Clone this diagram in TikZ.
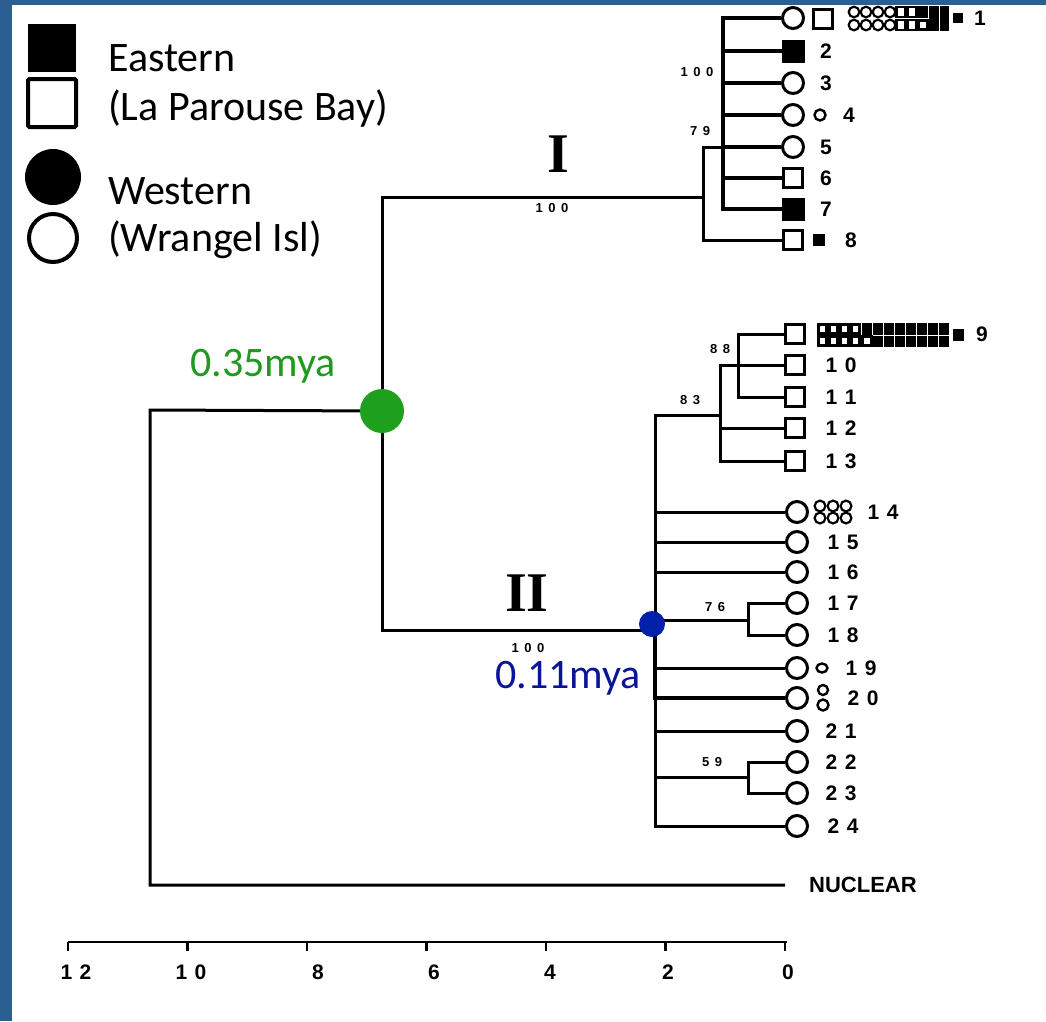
\documentclass[tikz,border=0pt]{standalone}
\usepackage{fontspec}
\setmainfont{Carlito}
\newfontfamily\numf{Liberation Sans}
\newfontfamily\romf{Liberation Serif}
\newcommand\leafnumfont{\numf\bfseries\fontsize{21}{21}\selectfont\spaceskip=7.5pt plus 0pt minus 0pt\relax}
\newcommand\bootnumfont{\numf\bfseries\fontsize{13}{13}\selectfont\spaceskip=5.5pt plus 0pt minus 0pt\relax}
\definecolor{bord}{RGB}{43,95,146}
\definecolor{dotgreen}{RGB}{30,160,30}
\definecolor{txtgreen}{RGB}{30,155,30}
\definecolor{dotblue}{RGB}{0,32,170}
\definecolor{txtblue}{RGB}{10,20,150}
\tikzset{
  tree/.style={line width=3pt},
  treethick/.style={line width=4.5pt},
  leafc/.style={circle, draw, line width=3pt, fill=white, minimum size=21pt, inner sep=0pt},
  leafsq/.style={rectangle, draw, line width=3pt, fill=white, minimum size=19pt, inner sep=0pt},
  leafsf/.style={rectangle, draw, fill=black, line width=1pt, minimum size=22pt, inner sep=0pt},
  num/.style={font=\leafnumfont, inner sep=0pt},
  boot/.style={font=\bootnumfont, inner sep=0pt},
  roman/.style={font=\romf\bfseries\fontsize{56}{56}\selectfont, inner sep=0pt},
  legtxt/.style={font=\fontsize{42}{42}\selectfont, inner sep=0pt, anchor=base west},
  mini/.style={line width=2.2pt},
}
\begin{document}
\begin{tikzpicture}[x=1pt,y=-1pt]
\useasboundingbox (0,0) rectangle (1046,1021);
\fill[white] (0,0) rectangle (1046,1021);
\fill[bord] (0,0) rectangle (12,1021);
\fill[bord] (0,0) rectangle (1046,5);

% ---------- legend
\node[fill=black, minimum size=48pt, inner sep=0pt] (keyEf) at (52,48) {};
\node[draw, line width=4pt, minimum size=48pt, inner sep=0pt, rounded corners=1.5pt] (keyEo) at (52,103) {};
\node[circle, fill=black, minimum size=56pt, inner sep=0pt] (keyWf) at (53,177) {};
\node[circle, draw, line width=4pt, minimum size=48pt, inner sep=0pt] (keyWo) at (53,238) {};
\node[legtxt] (tE) at (108,71) {Eastern};
\node[legtxt] (tEb) at (108,120) {(La Parouse Bay)};
\node[legtxt] (tW) at (108,204) {Western};
\node[legtxt] (tWb) at (108,251) {(Wrangel Isl)};

% ---------- junction coordinates
\coordinate (root) at (150,410);
\coordinate (nuc) at (785,885);
\coordinate (nI) at (382,411);
\coordinate (cI) at (703,197);
\coordinate (aIn) at (723,147);
\coordinate (cII) at (655,630);
\coordinate (bs) at (720,415);
\coordinate (bss) at (738,365);
\coordinate (b78) at (748,620);
\coordinate (b23) at (748,777);

% ---------- leaves clade I
\node[leafc] (l1) at (793,18) {};
\node[leafsq] (l1b) at (823,19) {};
\node[leafsf] (l2) at (793,51) {};
\node[leafc] (l3) at (793,83) {};
\node[leafc] (l4) at (793,115) {};
\node[leafc] (l5) at (793,147) {};
\node[leafsq] (l6) at (793,178) {};
\node[leafsf] (l7) at (793,209) {};
\node[leafsq] (l8) at (793,240) {};
% ---------- leaves clade II
\node[leafsq] (l9) at (795,334) {};
\node[leafsq] (l10) at (795,365) {};
\node[leafsq] (l11) at (795,397) {};
\node[leafsq] (l12) at (795,428) {};
\node[leafsq] (l13) at (795,461) {};
\node[leafc] (l14) at (797,512) {};
\node[leafc] (l15) at (797,542) {};
\node[leafc] (l16) at (797,572) {};
\node[leafc] (l17) at (797,603) {};
\node[leafc] (l18) at (797,635) {};
\node[leafc] (l19) at (797,668) {};
\node[leafc] (l20) at (797,698) {};
\node[leafc] (l21) at (797,731) {};
\node[leafc] (l22) at (797,762) {};
\node[leafc] (l23) at (797,793) {};
\node[leafc] (l24) at (797,826) {};

% ---------- tree connectors
\draw[tree] (nI) -- (root) |- (nuc);
\draw[tree] (cI) -| (nI) |- (cII);
\draw[tree] (cI) |- (aIn) (cI) |- (l8.west);
\draw[treethick] (aIn) |- (l1.west) (aIn) |- (l2.west) (aIn) |- (l3.west)
  (aIn) |- (l4.west) (aIn) |- (l5.west) (aIn) |- (l6.west) (aIn) |- (l7.west);
\draw[tree] (cII) |- (bs) (cII) |- (l14.west) (cII) |- (l15.west) (cII) |- (l16.west)
  (cII) |- (b78) (cII) |- (l19.west) (cII) |- (l21.west) (cII) |- (b23) (cII) |- (l24.west);
\draw[treethick] (cII) |- (l20.west);
\draw[tree] (bs) |- (l10.west) (bs) |- (l12.west) (bs) |- (l13.west);
\draw[tree] (bss) |- (l9.west) (bss) |- (l11.west);
\draw[tree] (b78) |- (l17.west) (b78) |- (l18.west);
\draw[tree] (b23) |- (l22.west) (b23) |- (l23.west);

% ---------- haplotype glyphs
% leaf 1
\foreach \x in {854,866,878,890} \foreach \y in {12,25} \draw[mini] (\x,\y) circle (5.3);
\foreach \x in {901,912} \foreach \y in {12,25} \draw[mini] (\x-4.5,\y-5) rectangle (\x+4.5,\y+5);
\fill (918,6) rectangle (928,18);
\draw[mini] (918.5,20.5) rectangle (927.5,29.5);
\fill (929,6) rectangle (939,31);
\fill (940,6) rectangle (949,31);
\fill (953,13) rectangle (963,23);
% leaf 9
\foreach \k in {0,...,3} \foreach \y in {329,341} \draw[line width=2.6pt] (818.5+11*\k,\y-4.5) rectangle (826.5+11*\k,\y+4.5);
\fill (862,323) rectangle (872,335);
\draw[line width=2.6pt] (862.5,336.5) rectangle (871.5,345.5);
\foreach \k in {5,...,11} {\fill (817.5+11*\k,323) rectangle (827.5+11*\k,334.5); \fill (817.5+11*\k,335.5) rectangle (827.5+11*\k,347);}
\fill (953,329) rectangle (964,341);
% leaf 14
\foreach \x in {820,833,846} \foreach \y in {506,518} \draw[mini] (\x,\y) circle (5.4);
% leaf 4, 8, 19, 20
\draw[line width=2.4pt] (820,115) circle (5.5);
\fill (813,234) rectangle (825,246);
\draw[line width=2.4pt] (822,668) ellipse (5.5 and 4.5);
\draw[line width=2.4pt] (823,690) circle (5);
\draw[line width=2.4pt] (823,705) circle (5.5);

% ---------- leaf numbers
\node[num] (n1) at (980,18) {1};
\node[num] (n2) at (826,51) {2};
\node[num] (n3) at (826,83) {3};
\node[num] (n4) at (849,115) {4};
\node[num] (n5) at (826,147) {5};
\node[num] (n6) at (826,178) {6};
\node[num] (n7) at (826,209) {7};
\node[num] (n8) at (851,240) {8};
\node[num] (n9) at (982,334) {9};
\node[num] (n10) at (841,365) {1 0};
\node[num] (n11) at (841,397) {1 1};
\node[num] (n12) at (841,428) {1 2};
\node[num] (n13) at (841,461) {1 3};
\node[num] (n14) at (883,512) {1 4};
\node[num] (n15) at (843,542) {1 5};
\node[num] (n16) at (843,572) {1 6};
\node[num] (n17) at (843,603) {1 7};
\node[num] (n18) at (843,635) {1 8};
\node[num] (n19) at (861,668) {1 9};
\node[num] (n20) at (863,698) {2 0};
\node[num] (n21) at (841,731) {2 1};
\node[num] (n22) at (841,762) {2 2};
\node[num] (n23) at (841,793) {2 3};
\node[num] (n24) at (843,826) {2 4};

% ---------- bootstrap values & clade labels
\node[boot] (bt1) at (697,72) {1 0 0};
\node[boot] (bt2) at (700,131) {7 9};
\node[boot] (bt3) at (552,208) {1 0 0};
\node[boot] (bt4) at (528,648) {1 0 0};
\node[boot] (bt5) at (720,349) {8 8};
\node[boot] (bt6) at (690,400) {8 3};
\node[boot] (bt7) at (715,607) {7 6};
\node[boot] (bt8) at (712,762) {5 9};
\node[roman] (cl1) at (558,154) {I};
\node[roman] (cl2) at (527,593) {II};

% ---------- NUCLEAR
\node[font=\numf\bfseries\fontsize{22}{22}\selectfont, inner sep=0pt, anchor=west] (nucl) at (809,885) {NUCLEAR};

% ---------- scale axis
\coordinate (axL) at (68,942);
\coordinate (axR) at (787,942);
\draw[line width=2.8pt] (axL) -- (axR);
\foreach \i in {0,...,6} \draw[line width=2.4pt] (68+119.5*\i,942) -- ++(0,9);
\node[num] (a12) at (76,972) {1 2};
\node[num] (a10) at (191,972) {1 0};
\node[num] (a8) at (318,972) {8};
\node[num] (a6) at (434,972) {6};
\node[num] (a4) at (550,972) {4};
\node[num] (a2) at (668,972) {2};
\node[num] (a0) at (788,972) {0};

% ---------- dated nodes
\node[circle, fill=dotgreen, minimum size=44pt, inner sep=0pt] (gdot) at (nI) {};
\node[circle, fill=dotblue, minimum size=26pt, inner sep=0pt] (bdot) at (652,624) {};
\node[font=\fontsize{42}{42}\selectfont, text=txtgreen, inner sep=0pt, anchor=base west] (tg) at (190,376) {0.35mya};
\node[font=\fontsize{42}{42}\selectfont, text=txtblue, inner sep=0pt, anchor=base west] (tb) at (495,688) {0.11mya};
\end{tikzpicture}
\end{document}
